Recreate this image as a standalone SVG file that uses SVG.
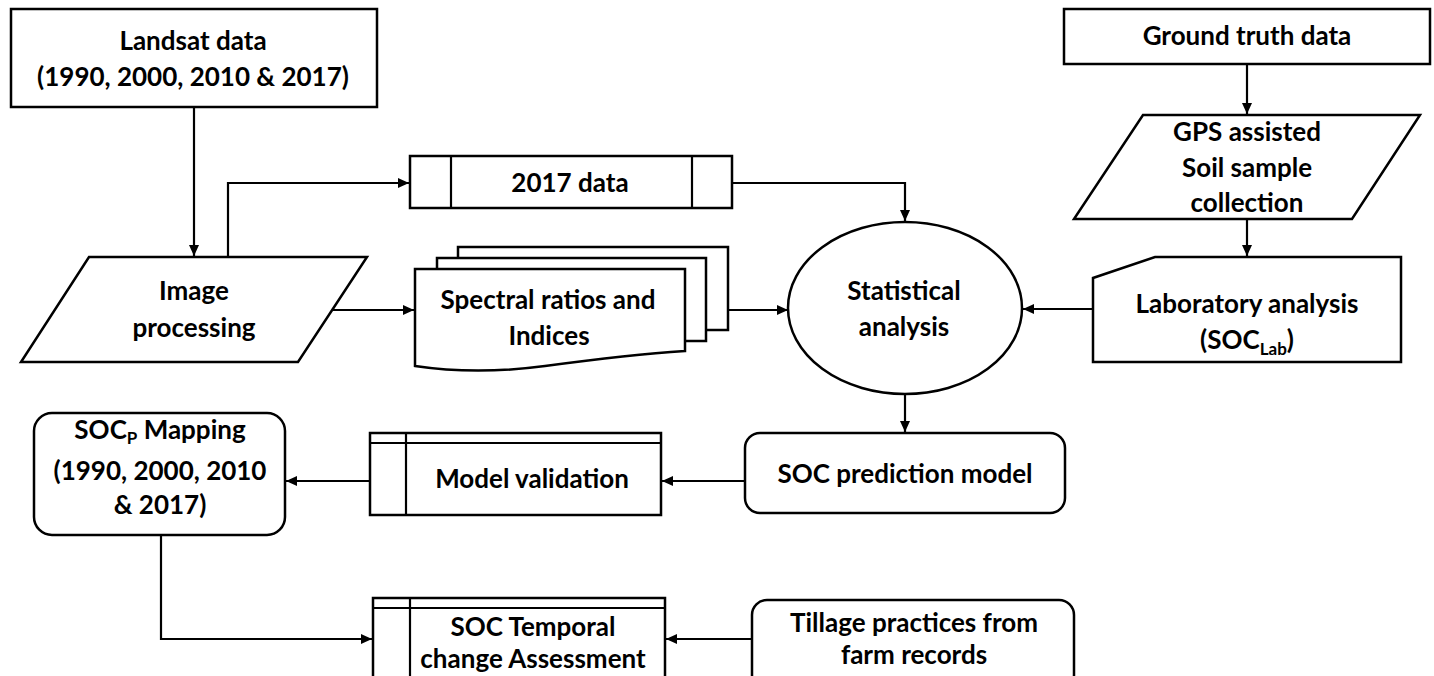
<svg xmlns="http://www.w3.org/2000/svg" width="1434" height="676" viewBox="0 0 1434 676">
<defs>
<style>
.n{fill:#fff;stroke:#000;stroke-width:2.5}
.l{fill:none;stroke:#000;stroke-width:2.2}
.t{font-family:Lato,"Liberation Sans",sans-serif;font-weight:bold;font-size:26px;text-anchor:middle;fill:#000}
</style>
<marker id="a" markerUnits="userSpaceOnUse" markerWidth="11" markerHeight="10" refX="11" refY="5" orient="auto">
<path d="M0,0 L11,5 L0,10 z" fill="#000"/>
</marker>
</defs>
<rect width="1434" height="676" fill="#fff"/>
<g id="connectors">
<path class="l" d="M194,107 V256" marker-end="url(#a)"/>
<path class="l" d="M228,257 V183 H409" marker-end="url(#a)"/>
<path class="l" d="M732,183 H905 V221" marker-end="url(#a)"/>
<path class="l" d="M332,310 H414" marker-end="url(#a)"/>
<path class="l" d="M728,310 H788" marker-end="url(#a)"/>
<path class="l" d="M1093,309 H1023" marker-end="url(#a)"/>
<path class="l" d="M1247,64 V114" marker-end="url(#a)"/>
<path class="l" d="M1247,219 V256" marker-end="url(#a)"/>
<path class="l" d="M905,395 V432" marker-end="url(#a)"/>
<path class="l" d="M745,481 H662" marker-end="url(#a)"/>
<path class="l" d="M370,481 H286" marker-end="url(#a)"/>
<path class="l" d="M161,535 V639 H372" marker-end="url(#a)"/>
<path class="l" d="M752,639 H666" marker-end="url(#a)"/>
</g>
<g id="landsat">
<rect class="n" x="11" y="9" width="366" height="98"/>
<text class="t" x="193" y="50">Landsat data</text>
<text class="t" x="193" y="86">(1990, 2000, 2010 &amp; 2017)</text>
</g>
<g id="image-processing">
<polygon class="n" points="89,257 367,257 298,362 21,362"/>
<text class="t" x="194" y="300">Image</text>
<text class="t" x="194" y="337">processing</text>
</g>
<g id="data2017">
<rect class="n" x="410" y="156" width="322" height="52"/>
<line class="l" x1="451" y1="156" x2="451" y2="208"/>
<line class="l" x1="692" y1="156" x2="692" y2="208"/>
<text class="t" x="570" y="192">2017 data</text>
</g>
<g id="spectral">
<rect class="n" x="458" y="247" width="270" height="83"/>
<rect class="n" x="437" y="258" width="269" height="83"/>
<path class="n" d="M415,269 H685 V351 C640,354 590,360 545,366 C500,372 455,372 415,366 Z"/>
<text class="t" x="548" y="309">Spectral ratios and</text>
<text class="t" x="549" y="345">Indices</text>
</g>
<g id="statistical">
<ellipse class="n" cx="905" cy="308" rx="117" ry="86"/>
<text class="t" x="904" y="300">Statistical</text>
<text class="t" x="904" y="336">analysis</text>
</g>
<g id="ground-truth">
<rect class="n" x="1064" y="9" width="366" height="55"/>
<text class="t" x="1247" y="45">Ground truth data</text>
</g>
<g id="gps">
<polygon class="n" points="1143,115 1420,115 1352,219 1074,219"/>
<text class="t" x="1247" y="141">GPS assisted</text>
<text class="t" x="1247" y="177">Soil sample</text>
<text class="t" x="1247" y="212">collection</text>
</g>
<g id="laboratory">
<path class="n" d="M1155,257 H1401 V362 H1093 V278 Z"/>
<text class="t" x="1247" y="313">Laboratory analysis</text>
<text class="t" x="1247" y="349">(SOC<tspan font-size="17" dy="6">Lab</tspan><tspan dy="-6">)</tspan></text>
</g>
<g id="soc-prediction">
<rect class="n" x="745" y="433" width="320" height="80" rx="15"/>
<text class="t" x="905" y="483">SOC prediction model</text>
</g>
<g id="model-validation">
<rect class="n" x="370" y="433" width="291" height="82"/>
<line class="l" x1="370" y1="443" x2="661" y2="443"/>
<line class="l" x1="406" y1="433" x2="406" y2="515"/>
<text class="t" x="532" y="488">Model validation</text>
</g>
<g id="socp-mapping">
<rect class="n" x="34" y="413" width="251" height="122" rx="18"/>
<text class="t" x="160" y="439">SOC<tspan font-size="17" dy="5">P</tspan><tspan dy="-5"> Mapping</tspan></text>
<text class="t" x="160" y="480">(1990, 2000, 2010</text>
<text class="t" x="160" y="514">&amp; 2017)</text>
</g>
<g id="soc-temporal">
<rect class="n" x="373" y="598" width="292" height="90"/>
<line class="l" x1="373" y1="608" x2="665" y2="608"/>
<line class="l" x1="410" y1="598" x2="410" y2="688"/>
<text class="t" x="533" y="636">SOC Temporal</text>
<text class="t" x="533" y="668">change Assessment</text>
</g>
<g id="tillage">
<rect class="n" x="752" y="600" width="322" height="90" rx="15"/>
<text class="t" x="914" y="632">Tillage practices from</text>
<text class="t" x="914" y="664">farm records</text>
</g>
</svg>
